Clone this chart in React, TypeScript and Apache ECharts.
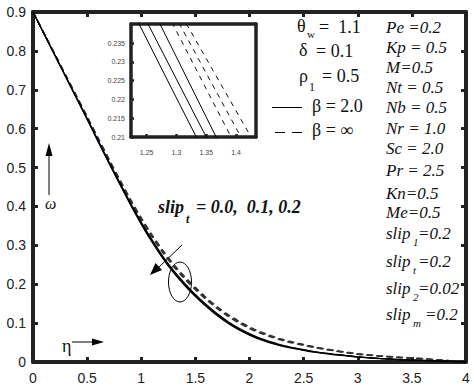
import React, { useEffect, useRef } from "react";
import * as echarts from "echarts";

// Main plot: eta grid and omega profiles (slip_t = 0.0, 0.1, 0.2)
const ETA = [0, 0.1, 0.2, 0.3, 0.4, 0.5, 0.6, 0.7, 0.8, 0.9, 1.0, 1.1, 1.2, 1.3, 1.4, 1.5, 1.6, 1.7, 1.8, 1.9, 2.0,
  2.1, 2.2, 2.3, 2.4, 2.5, 2.6, 2.7, 2.8, 2.9, 3.0, 3.1, 3.2, 3.3, 3.4, 3.5, 3.6, 3.7, 3.8, 3.9, 4.0];

// beta = 2.0 (solid)
const SOLID_1 = [0.900, 0.8447, 0.7894, 0.7341, 0.6788, 0.6235, 0.5672, 0.5119, 0.4576, 0.4043, 0.354, 0.308, 0.266, 0.229, 0.197,
  0.1681, 0.1423, 0.1195, 0.0996, 0.0828, 0.069, 0.0572, 0.0484, 0.0406, 0.0347, 0.0299, 0.025, 0.0212, 0.0183, 0.0154,
  0.0125, 0.0105, 0.0086, 0.0071, 0.0057, 0.0048, 0.0038, 0.0029, 0.0019, 0.001, 0.0];
const SOLID_2 = [0.900, 0.845, 0.790, 0.735, 0.680, 0.625, 0.569, 0.514, 0.460, 0.407, 0.357, 0.311, 0.269, 0.232, 0.200,
  0.171, 0.145, 0.122, 0.102, 0.085, 0.071, 0.059, 0.050, 0.042, 0.036, 0.031, 0.026, 0.022, 0.019, 0.016,
  0.013, 0.011, 0.009, 0.0075, 0.006, 0.005, 0.004, 0.003, 0.002, 0.001, 0.0];
const SOLID_3 = [0.900, 0.8453, 0.7906, 0.7359, 0.6812, 0.6265, 0.5708, 0.5161, 0.4624, 0.4097, 0.360, 0.314, 0.272, 0.235, 0.203,
  0.1739, 0.1477, 0.1245, 0.1044, 0.0872, 0.073, 0.0608, 0.0516, 0.0434, 0.0373, 0.0321, 0.027, 0.0228, 0.0197, 0.0166,
  0.0135, 0.0115, 0.0094, 0.0079, 0.0063, 0.0052, 0.0042, 0.0031, 0.0021, 0.001, 0.0];

// beta = infinity (dashed)
const DASH_1 = [0.900, 0.8457, 0.7914, 0.7371, 0.6828, 0.6285, 0.5732, 0.5189, 0.4656, 0.4133, 0.365, 0.321, 0.281, 0.245, 0.214,
  0.1861, 0.1603, 0.1375, 0.1176, 0.1008, 0.086, 0.0742, 0.0644, 0.0556, 0.0487, 0.0429, 0.037, 0.0322, 0.0278, 0.0239,
  0.02, 0.0175, 0.0151, 0.0131, 0.0112, 0.0098, 0.0083, 0.0059, 0.0039, 0.002, 0.0];
const DASH_2 = [0.900, 0.846, 0.792, 0.738, 0.684, 0.630, 0.575, 0.521, 0.468, 0.416, 0.368, 0.324, 0.284, 0.248, 0.217,
  0.189, 0.163, 0.140, 0.120, 0.103, 0.088, 0.076, 0.066, 0.057, 0.050, 0.044, 0.038, 0.033, 0.0285, 0.0245,
  0.0205, 0.018, 0.0155, 0.0135, 0.0115, 0.010, 0.0085, 0.006, 0.004, 0.002, 0.0];
const DASH_3 = [0.900, 0.8463, 0.7926, 0.7389, 0.6852, 0.6315, 0.5768, 0.5231, 0.4704, 0.4187, 0.371, 0.327, 0.287, 0.251, 0.220,
  0.1919, 0.1657, 0.1425, 0.1224, 0.1052, 0.090, 0.0778, 0.0676, 0.0584, 0.0513, 0.0451, 0.039, 0.0338, 0.0292, 0.0251,
  0.021, 0.0185, 0.0159, 0.0139, 0.0118, 0.0102, 0.0087, 0.0061, 0.0041, 0.002, 0.0];

// Inset (zoomed) values
const INSET_ETA = [1.2, 1.25, 1.3, 1.35, 1.4, 1.45];
const INSET_SOLID_1 = [0.2518, 0.2361, 0.2204, 0.2048, 0.1891, 0.1734];
const INSET_SOLID_2 = [0.2562, 0.2408, 0.2254, 0.2100, 0.1946, 0.1792];
const INSET_SOLID_3 = [0.2632, 0.2472, 0.2313, 0.2153, 0.1994, 0.1834];
const INSET_DASH_1 = [0.2689, 0.2535, 0.2382, 0.2228, 0.2075, 0.1921];
const INSET_DASH_2 = [0.2708, 0.2562, 0.2416, 0.2270, 0.2124, 0.1978];
const INSET_DASH_3 = [0.2726, 0.2587, 0.2448, 0.2309, 0.2170, 0.2031];
const INSET_X_TICKS = [1.25, 1.3, 1.35, 1.4];
const INSET_Y_TICKS = [0.21, 0.215, 0.22, 0.225, 0.23, 0.235];

const PARAMS = ["Pe =0.2", "Kp = 0.5", "M=0.5", "Nt = 0.5", "Nb = 0.5", "Nr = 1.0", "Sc = 2.0", "Pr = 2.5", "Kn=0.5", "Me=0.5"];
const PARAM_Y = [27, 47, 67, 87, 107, 128, 148, 170, 193, 212];
const SLIPS = [
  { sub: "1", val: "=0.2" },
  { sub: "t", val: "=0.2" },
  { sub: "2", val: "=0.02" },
  { sub: "m", val: "=0.2" },
];
const SLIP_Y = [233, 261, 288, 314];

const AX = "#222";
const SERIF = '"Liberation Serif", "Times New Roman", serif';

function txt(text: string, x: number, y: number, font: string, extra: any = {}) {
  return {
    type: "text",
    x,
    y,
    silent: true,
    style: { text, font, fill: "#111", verticalAlign: "middle", align: "left", ...extra },
  };
}

export default function App() {
  const ref = useRef<HTMLDivElement>(null);
  useEffect(() => {
    document.body.style.margin = "0";
    const chart = echarts.init(ref.current!, null, { renderer: "svg" });
    const pair = (xs: number[], ys: number[]) => xs.map((x, i) => [x, ys[i]]);
    const solidMain = (arr: number[]) => ({
      type: "line", xAxisIndex: 0, yAxisIndex: 0, data: pair(ETA, arr), symbol: "none", smooth: 0.3,
      lineStyle: { color: "#000", width: 1.2 }, z: 3,
    });
    const dashMain = (arr: number[]) => ({
      type: "line", xAxisIndex: 0, yAxisIndex: 0, data: pair(ETA, arr), symbol: "none", smooth: 0.3,
      lineStyle: { color: "#333", width: 1.5, type: [6, 4] }, z: 2,
    });
    const solidInset = (arr: number[]) => ({
      type: "line", xAxisIndex: 2, yAxisIndex: 2, data: pair(INSET_ETA, arr), symbol: "none",
      lineStyle: { color: "#000", width: 1 }, clip: true,
    });
    const dashInset = (arr: number[]) => ({
      type: "line", xAxisIndex: 2, yAxisIndex: 2, data: pair(INSET_ETA, arr), symbol: "none",
      lineStyle: { color: "#111", width: 1, type: [5, 5] }, clip: true,
    });

    const mainTick = { show: true, inside: true, length: 5, lineStyle: { color: AX, width: 3 } };
    const mainLine = { show: true, onZero: false, lineStyle: { color: AX, width: 4 } };
    const tickFont = { color: "#222", fontSize: 14, fontFamily: '"Liberation Sans", Arial, sans-serif' };

    const graphics: any[] = [];
    // left annotation column
    graphics.push(txt("θ", 297, 26, `18px ${SERIF}`));
    graphics.push(txt("w", 307, 34, `11px ${SERIF}`));
    graphics.push(txt("=  1.1", 319, 27, `18px ${SERIF}`));
    graphics.push(txt("δ", 299, 50, `18px ${SERIF}`));
    graphics.push(txt("= 0.1", 316, 51, `18px ${SERIF}`));
    graphics.push(txt("ρ", 299, 76, `18px ${SERIF}`));
    graphics.push(txt("1", 309, 87, `12px ${SERIF}`));
    graphics.push(txt("= 0.5", 322, 76, `18px ${SERIF}`));
    graphics.push({ type: "line", silent: true, shape: { x1: 272, y1: 107.5, x2: 302, y2: 107.5 }, style: { stroke: "#000", lineWidth: 1 } });
    graphics.push(txt("β = 2.0", 312, 106, `18px ${SERIF}`));
    graphics.push({ type: "line", silent: true, shape: { x1: 275, y1: 132.5, x2: 303, y2: 132.5 }, style: { stroke: "#000", lineWidth: 1, lineDash: [10, 7] } });
    graphics.push(txt("β = ∞", 312, 130, `18px ${SERIF}`));
    // right parameter column
    PARAMS.forEach((p, i) => graphics.push(txt(p, 386, PARAM_Y[i], `italic 17px ${SERIF}`)));
    SLIPS.forEach((s, i) => {
      graphics.push(txt("slip", 386, SLIP_Y[i], `italic 17px ${SERIF}`));
      graphics.push(txt(s.sub, 413, SLIP_Y[i] + 9, `italic 11px ${SERIF}`));
      graphics.push(txt(s.val, s.sub === "m" ? 425 : 418, SLIP_Y[i], `italic 17px ${SERIF}`));
    });
    // slip_t annotation
    graphics.push(txt("slip", 158, 207, `italic bold 18px ${SERIF}`));
    graphics.push(txt("t", 186, 219, `italic bold 12px ${SERIF}`));
    graphics.push(txt("= 0.0,  0.1, 0.2", 196, 207, `italic bold 18px ${SERIF}`));
    graphics.push({ type: "line", silent: true, shape: { x1: 182, y1: 245, x2: 158, y2: 268 }, style: { stroke: "#000", lineWidth: 1 } });
    graphics.push({ type: "polygon", silent: true, shape: { points: [[150, 275], [162, 270], [155.5, 263]] }, style: { fill: "#000" } });
    graphics.push({ type: "ellipse", silent: true, shape: { cx: 180, cy: 282, rx: 11.5, ry: 20 }, style: { fill: "none", stroke: "#000", lineWidth: 1 } });
    // omega label and arrow
    graphics.push({ type: "line", silent: true, shape: { x1: 49, y1: 195, x2: 49, y2: 150 }, style: { stroke: "#000", lineWidth: 1 } });
    graphics.push({ type: "polygon", silent: true, shape: { points: [[49, 143], [45.5, 156], [52.5, 156]] }, style: { fill: "#000" } });
    graphics.push(txt("ω", 45, 203, `italic 16px ${SERIF}`));
    // eta label and arrow
    graphics.push(txt("η", 62, 346, `18px ${SERIF}`));
    graphics.push({ type: "line", silent: true, shape: { x1: 72, y1: 342, x2: 96, y2: 342 }, style: { stroke: "#000", lineWidth: 1 } });
    graphics.push({ type: "polygon", silent: true, shape: { points: [[104, 342], [92, 338.5], [92, 345.5]] }, style: { fill: "#000" } });

    chart.setOption({
      animation: false,
      backgroundColor: "#fff",
      grid: [
        { left: 33, top: 12, right: 8, bottom: 27 },
        { left: 131, top: 24, width: 125, height: 113 },
      ],
      xAxis: [
        { type: "value", gridIndex: 0, min: 0, max: 4, interval: 0.5, position: "bottom", axisLine: mainLine, axisTick: mainTick,
          axisLabel: { ...tickFont, margin: 9 }, splitLine: { show: false } },
        { type: "value", gridIndex: 0, min: 0, max: 4, interval: 0.5, position: "top", axisLine: mainLine, axisTick: mainTick,
          axisLabel: { show: false }, splitLine: { show: false } },
        { type: "value", gridIndex: 1, min: 1.2237, max: 1.4336, position: "bottom",
          axisLine: { show: true, onZero: false, lineStyle: { color: AX, width: 3.5 } },
          axisTick: { show: true, inside: true, length: 3, customValues: INSET_X_TICKS, lineStyle: { color: AX, width: 2.5 } },
          axisLabel: { customValues: INSET_X_TICKS, color: "#444", fontSize: 7, fontFamily: '"Liberation Sans", Arial', margin: 12,
            formatter: (v: number) => String(+v.toFixed(2)) },
          splitLine: { show: false } },
        { type: "value", gridIndex: 1, min: 1.2237, max: 1.4336, position: "top",
          axisLine: { show: true, onZero: false, lineStyle: { color: AX, width: 3.5 } },
          axisTick: { show: false }, axisLabel: { show: false }, splitLine: { show: false } },
      ],
      yAxis: [
        { type: "value", gridIndex: 0, min: 0, max: 0.9, interval: 0.1, position: "left", axisLine: mainLine, axisTick: mainTick,
          axisLabel: { ...tickFont, margin: 7 }, splitLine: { show: false } },
        { type: "value", gridIndex: 0, min: 0, max: 0.9, interval: 0.1, position: "right", axisLine: mainLine, axisTick: mainTick,
          axisLabel: { show: false }, splitLine: { show: false } },
        { type: "value", gridIndex: 1, min: 0.21, max: 0.2401, position: "left",
          axisLine: { show: true, onZero: false, lineStyle: { color: AX, width: 3.5 } },
          axisTick: { show: true, inside: true, length: 3, customValues: INSET_Y_TICKS, lineStyle: { color: AX, width: 2.5 } },
          axisLabel: { customValues: INSET_Y_TICKS, color: "#444", fontSize: 7, fontFamily: '"Liberation Sans", Arial', margin: 6,
            formatter: (v: number) => String(+v.toFixed(3)) },
          splitLine: { show: false } },
        { type: "value", gridIndex: 1, min: 0.21, max: 0.2401, position: "right",
          axisLine: { show: true, onZero: false, lineStyle: { color: AX, width: 3.5 } },
          axisTick: { show: false }, axisLabel: { show: false }, splitLine: { show: false } },
      ],
      series: [
        dashMain(DASH_1), dashMain(DASH_2), dashMain(DASH_3),
        solidMain(SOLID_1), solidMain(SOLID_2), solidMain(SOLID_3),
        solidInset(INSET_SOLID_1), solidInset(INSET_SOLID_2), solidInset(INSET_SOLID_3),
        dashInset(INSET_DASH_1), dashInset(INSET_DASH_2), dashInset(INSET_DASH_3),
      ],
      graphic: graphics,
    });
    return () => chart.dispose();
  }, []);
  return <div ref={ref} style={{ position: "fixed", left: 0, top: 0, width: 474, height: 389, background: "#fff" }} />;
}
